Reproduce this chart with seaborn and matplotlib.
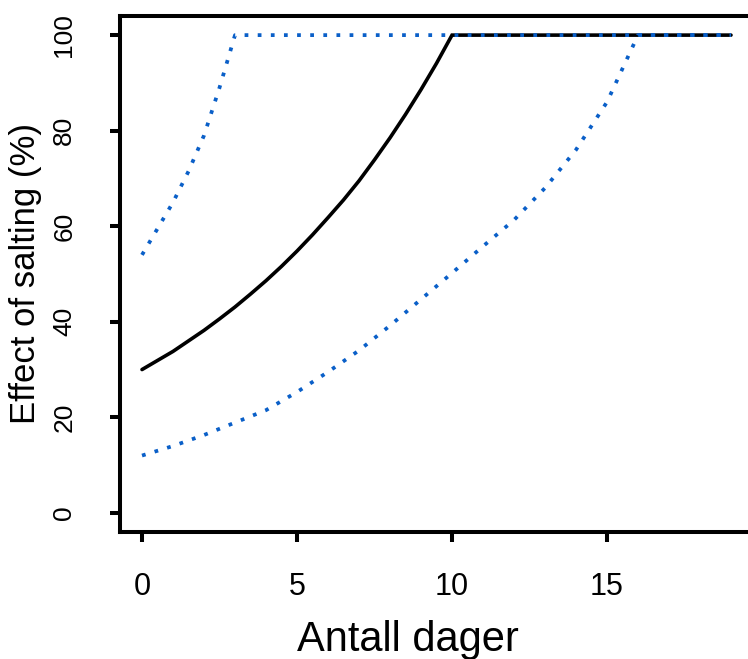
import numpy as np
import pandas as pd
import matplotlib
matplotlib.use("Agg")
import matplotlib.pyplot as plt
import seaborn as sns

# ---- data ----
days_mid = [0, 0.5, 1, 1.5, 2, 2.5, 3, 3.5, 4, 4.5, 5, 5.5, 6, 6.5, 7, 7.5,
            8, 8.5, 9, 9.5, 10, 19]
effect_mid = [30.0, 31.9, 33.8, 36.0, 38.2, 40.6, 43.1, 45.8, 48.6, 51.6,
              54.8, 58.2, 61.8, 65.5, 69.5, 73.9, 78.5, 83.4, 88.6, 94.1,
              100, 100]
days = [0, 1, 2, 3, 4, 5, 6, 7, 8, 9, 10, 11, 12, 13, 14, 15, 16, 17, 18, 19]
effect_low = [12.0, 14.0, 16.3, 18.9, 21.5, 25.3, 29.5, 34.0, 39.2, 44.7,
              50.2, 55.8, 61.3, 68.0, 76.0, 86.0, 100, 100, 100, 100]
days_up = [0, 0.5, 1, 1.5, 2, 2.5, 3, 19]
effect_up = [54.0, 59.5, 65.0, 71.5, 79.0, 89.0, 100, 100]

xticks = [0, 5, 10, 15]
yticks = [0, 20, 40, 60, 80, 100]
xlabel = "Antall dager"
ylabel = "Effect of salting (%)"

sns.set_style("white")
plt.rcParams["font.family"] = ["Liberation Sans", "DejaVu Sans"]
plt.rcParams["text.color"] = "black"
plt.rcParams["axes.labelcolor"] = "black"
plt.rcParams["xtick.color"] = "black"
plt.rcParams["ytick.color"] = "black"

W, H = 748, 659
fig = plt.figure(figsize=(W / 100, H / 100), dpi=100)
left_px, top_px, bottom_px = 120, 16, 532
x_min, x_max = -0.71, 19.76
px_per_unit = 31.0
width_px = (x_max - x_min) * px_per_unit
ax = fig.add_axes([left_px / W, 1 - bottom_px / H, width_px / W, (bottom_px - top_px) / H])

blue = "#0A5FC8"
mid_df = pd.DataFrame({"days": days_mid, "effect": effect_mid})
low_df = pd.DataFrame({"days": days, "effect": effect_low})
up_df = pd.DataFrame({"days": days_up, "effect": effect_up})

sns.lineplot(data=mid_df, x="days", y="effect", ax=ax, color="black", lw=2.6,
             solid_joinstyle="miter", zorder=2)
dot = (0, (1.0, 2.5))
sns.lineplot(data=low_df, x="days", y="effect", ax=ax, color=blue, lw=2.7,
             linestyle=dot, dash_capstyle="butt", zorder=3)
sns.lineplot(data=up_df, x="days", y="effect", ax=ax, color=blue, lw=2.7,
             linestyle=dot, dash_capstyle="butt", zorder=3)

ax.set_xlim(x_min, x_max)
ax.set_ylim(-4, 104)
ax.set_xticks(xticks)
ax.set_yticks(yticks)
ax.set_xticklabels([str(t) for t in xticks], fontsize=22)
ax.set_yticklabels([str(t) for t in yticks], fontsize=19, rotation=90, va="center")

for s in ax.spines.values():
    s.set_linewidth(2.9)
    s.set_color("black")
ax.tick_params(axis="both", direction="out", length=7.5, width=2.9, color="black",
               bottom=True, left=True, labelcolor="black")
ax.tick_params(axis="x", pad=21)
ax.tick_params(axis="y", pad=24)

ax.set_xlabel(xlabel, fontsize=30, color="black")
ax.set_ylabel(ylabel, fontsize=25, color="black")
ax.xaxis.set_label_coords((408 - left_px) / width_px, (bottom_px - 620) / (bottom_px - top_px))
ax.yaxis.set_label_coords((42 - left_px) / width_px, 0.5)

fig.savefig("out.png", dpi=100)
